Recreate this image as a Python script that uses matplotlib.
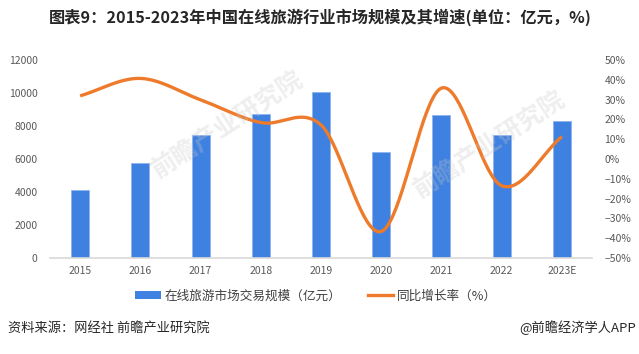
import numpy as np
import matplotlib
matplotlib.use("Agg")
import matplotlib.pyplot as plt
from matplotlib.lines import Line2D
from matplotlib.patches import Patch

plt.rcParams['font.family'] = ['Noto Sans CJK SC', 'DejaVu Sans']

years = ['2015', '2016', '2017', '2018', '2019', '2020', '2021', '2022', '2023E']
market_size = [4150, 5770, 7460, 8750, 10090, 6430, 8650, 7440, 8310]
growth = [31.9, 40.7, 29.9, 18.4, 17.2, -36.6, 35.8, -13.5, 11.3]

title = '图表9：2015-2023年中国在线旅游行业市场规模及其增速(单位：亿元，%)'
bar_label = '在线旅游市场交易规模（亿元）'
line_label = '同比增长率（%）'
source = '资料来源：网经社 前瞻产业研究院'
credit = '@前瞻经济学人APP'
watermark = '前瞻产业研究院'

bar_color = '#3F81E0'
line_color = '#EE7B2C'
tick_color = '#595959'


def catmull_rom(x, y, n=40):
    x = np.asarray(x, float)
    y = np.asarray(y, float)
    px = np.concatenate([[2 * x[0] - x[1]], x, [2 * x[-1] - x[-2]]])
    py = np.concatenate([[2 * y[0] - y[1]], y, [2 * y[-1] - y[-2]]])
    xs, ys = [], []
    for i in range(1, len(px) - 2):
        t = np.linspace(0, 1, n, endpoint=(i == len(px) - 3))
        for P, out in ((px, xs), (py, ys)):
            p0, p1, p2, p3 = P[i - 1], P[i], P[i + 1], P[i + 2]
            out.extend(0.5 * ((2 * p1) + (-p0 + p2) * t
                              + (2 * p0 - 5 * p1 + 4 * p2 - p3) * t ** 2
                              + (-p0 + 3 * p1 - 3 * p2 + p3) * t ** 3))
    return np.array(xs), np.array(ys)


fig = plt.figure(figsize=(6.39, 3.54), dpi=100)

ax = fig.add_axes([50 / 639, 1 - 258 / 354, 542 / 639, 198 / 354])
x = np.arange(len(years))
ax.bar(x, market_size, width=0.3, color=bar_color, edgecolor='#8FB5EE', linewidth=0.6, zorder=2)
ax.set_xlim(-0.5, len(years) - 0.5)
ax.set_ylim(0, 12000)
ax.set_yticks(np.arange(0, 12001, 2000))
ax.set_xticks(x)
ax.set_xticklabels(years)
for s in ['top', 'right', 'left']:
    ax.spines[s].set_visible(False)
ax.spines['bottom'].set_color('#D9D9D9')
ax.spines['bottom'].set_linewidth(1.2)
ax.tick_params(axis='both', length=0, labelsize=7.5, colors=tick_color)
ax.tick_params(axis='y', pad=9)
ax.tick_params(axis='x', pad=6)

ax2 = ax.twinx()
sx, sy = catmull_rom(x, growth)
ax2.plot(sx, sy, color=line_color, linewidth=2.4, solid_capstyle='butt', zorder=3)
ax2.set_ylim(-50, 50)
ax2.set_yticks(np.arange(-50, 51, 10))
ax2.set_yticklabels([f'{v}%'.replace('-', '−') for v in range(-50, 51, 10)])
for s in ['top', 'right', 'left', 'bottom']:
    ax2.spines[s].set_visible(False)
ax2.tick_params(axis='y', length=0, labelsize=7.5, colors=tick_color, pad=9)

# faint watermarks
for (wx, wy) in [(228, 125), (490, 145)]:
    fig.text(wx / 639, 1 - wy / 354, watermark, ha='center', va='center', fontsize=18,
             fontweight='bold', rotation=33, color='#C8C8C8', alpha=0.3)

handles = [Patch(facecolor=bar_color, edgecolor='none'),
           Line2D([0], [0], color=line_color, linewidth=2.4)]
fig.legend(handles, [bar_label, line_label], loc='center', bbox_to_anchor=(316 / 639, 1 - 296 / 354),
           ncol=2, frameon=False, fontsize=9.1, handlelength=2.0, handleheight=0.5,
           columnspacing=2.1, handletextpad=0.3, labelcolor='#404040', borderpad=0, borderaxespad=0)

fig.text(320 / 639, 1 - 17 / 354, title, ha='center', va='center', fontsize=11.7,
         fontweight='bold', color='#262626')
fig.text(8 / 639, 1 - 328 / 354, source, ha='left', va='center', fontsize=9.5, color='#262626')
fig.text(636 / 639, 1 - 328 / 354, credit, ha='right', va='center', fontsize=9.5, color='#262626')

fig.savefig('out.png', dpi=100)
